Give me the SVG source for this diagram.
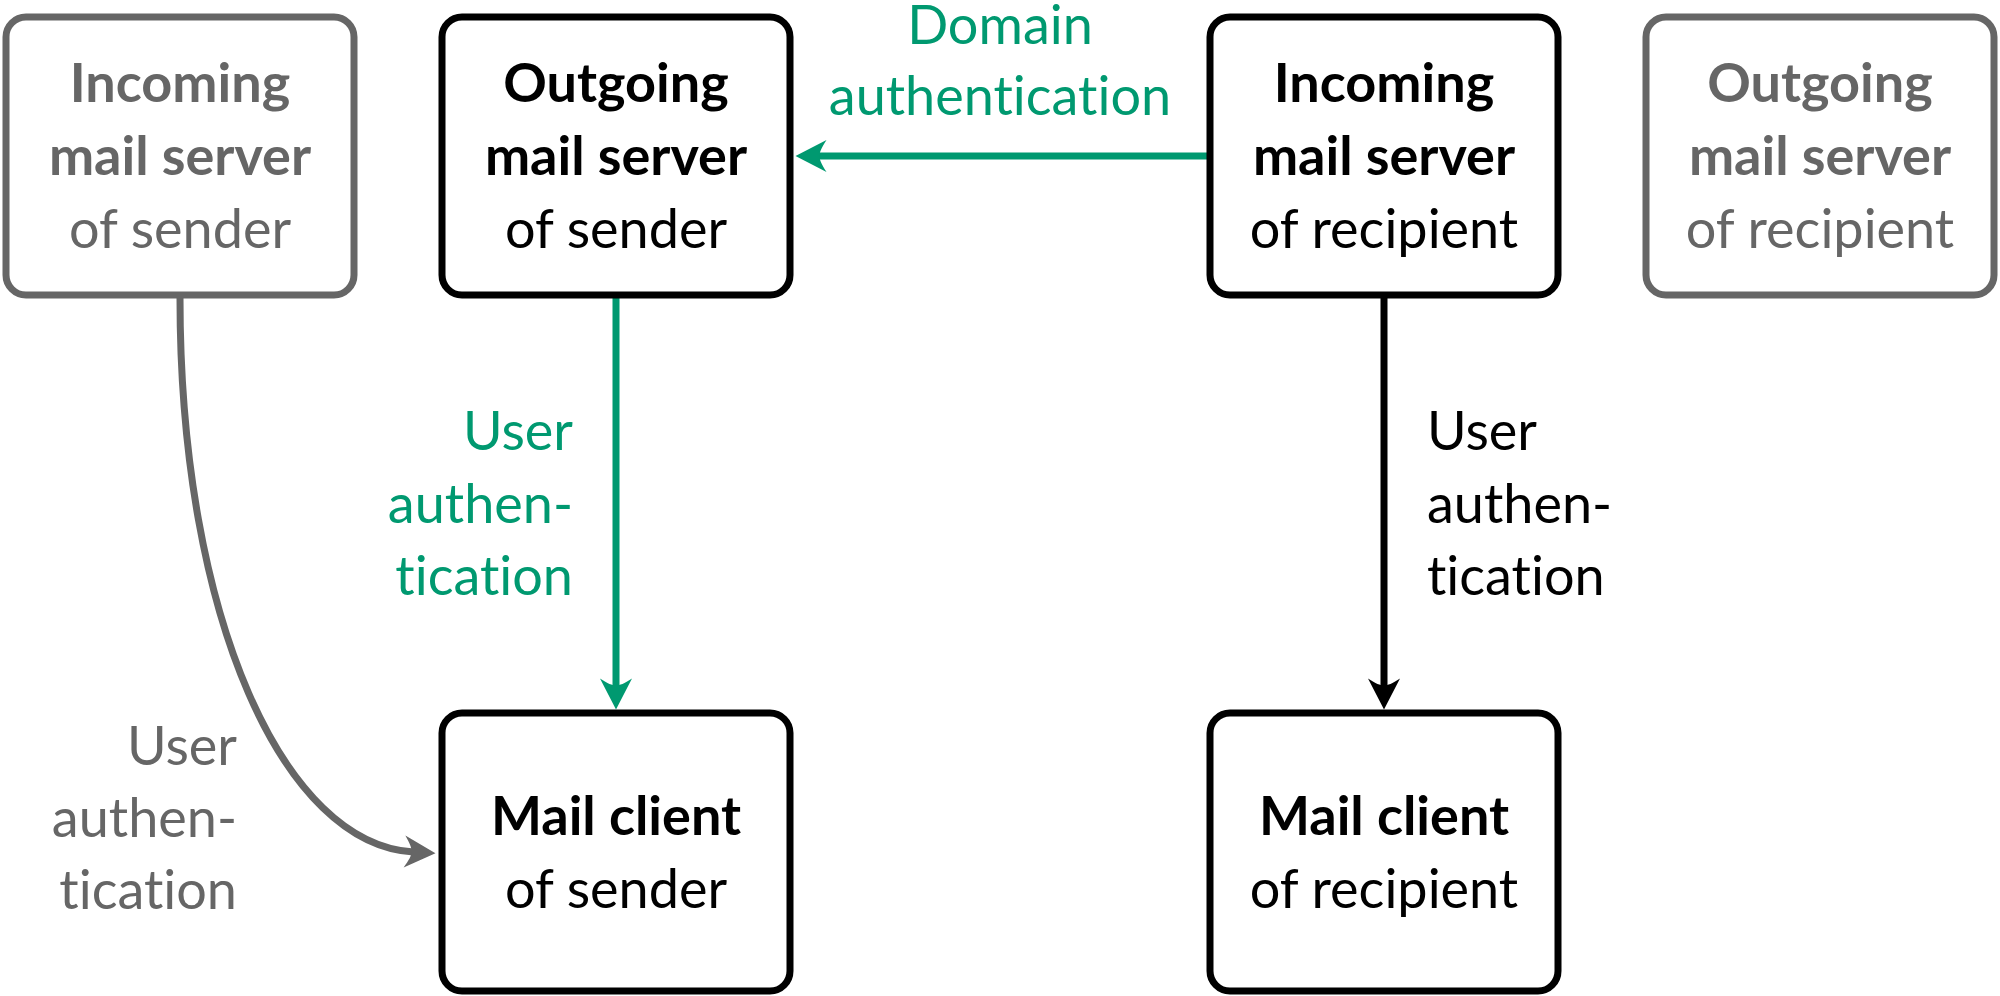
<svg xmlns="http://www.w3.org/2000/svg" width="2000" height="996" viewBox="0 0 2000 996">
<style>
text{font-family:Lato,"Open Sans","Liberation Sans",sans-serif;font-size:54px;font-variant-ligatures:none;font-feature-settings:"liga" 0,"clig" 0}
.b{font-weight:bold}
.box{fill:#fff;stroke:#000;stroke-width:7}
.gbox{fill:#fff;stroke:#666;stroke-width:7}
.c{text-anchor:middle}
.r{text-anchor:end}
.k{fill:#000}
.g{fill:#666}
.gr{fill:#009970}
.ln{fill:none;stroke-width:7}
</style>
<defs>
<marker id="ak" markerUnits="userSpaceOnUse" orient="auto" refX="0" refY="0" markerWidth="60" markerHeight="40" viewBox="-15 -20 60 40" overflow="visible">
<path d="M22,0 L-9,-16 C-4,-8 -2,-4 -2,0 C-2,4 -4,8 -9,16 Z" fill="#000"/>
</marker>
<marker id="ag" markerUnits="userSpaceOnUse" orient="auto" refX="0" refY="0" markerWidth="60" markerHeight="40" viewBox="-15 -20 60 40" overflow="visible">
<path d="M22,0 L-9,-16 C-4,-8 -2,-4 -2,0 C-2,4 -4,8 -9,16 Z" fill="#009970"/>
</marker>
<marker id="ay" markerUnits="userSpaceOnUse" orient="auto" refX="0" refY="0" markerWidth="60" markerHeight="40" viewBox="-15 -20 60 40" overflow="visible">
<path d="M22,0 L-9,-16 C-4,-8 -2,-4 -2,0 C-2,4 -4,8 -9,16 Z" fill="#666"/>
</marker>
</defs>
<g id="connectors">
<path class="ln" stroke="#009970" d="M1207,156 L817.5,156" marker-end="url(#ag)"/>
<path class="ln" stroke="#009970" d="M616,298 L616,687.5" marker-end="url(#ag)"/>
<path class="ln" stroke="#000" d="M1384,298 L1384,687.5" marker-end="url(#ak)"/>
<path class="ln" stroke="#666" d="M180,298 C180,620 285,845 413.5,852" marker-end="url(#ay)"/>
<text class="c gr" x="1000" y="44">Domain</text>
<text class="c gr" x="1000" y="115">authentication</text>
<text class="r gr" x="573" y="450">User</text>
<text class="r gr" x="573" y="523">authen-</text>
<text class="r gr" x="573" y="595">tication</text>
<text class="k" x="1427" y="450">User</text>
<text class="k" x="1427" y="523">authen-</text>
<text class="k" x="1427" y="595">tication</text>
<text class="r g" x="237" y="765">User</text>
<text class="r g" x="237" y="837">authen-</text>
<text class="r g" x="237" y="909">tication</text>
</g>
<g id="in-sender">
<rect class="gbox" x="6" y="17" width="348" height="278" rx="20"/>
<text class="c g b" x="180" y="102">Incoming</text>
<text class="c g b" x="180" y="175">mail server</text>
<text class="c g" x="180" y="248">of sender</text>
</g>
<g id="out-sender">
<rect class="box" x="442" y="17" width="348" height="278" rx="20"/>
<text class="c k b" x="616" y="102">Outgoing</text>
<text class="c k b" x="616" y="175">mail server</text>
<text class="c k" x="616" y="248">of sender</text>
</g>
<g id="in-recipient">
<rect class="box" x="1210" y="17" width="348" height="278" rx="20"/>
<text class="c k b" x="1384" y="102">Incoming</text>
<text class="c k b" x="1384" y="175">mail server</text>
<text class="c k" x="1384" y="248">of recipient</text>
</g>
<g id="out-recipient">
<rect class="gbox" x="1646" y="17" width="348" height="278" rx="20"/>
<text class="c g b" x="1820" y="102">Outgoing</text>
<text class="c g b" x="1820" y="175">mail server</text>
<text class="c g" x="1820" y="248">of recipient</text>
</g>
<g id="client-sender">
<rect class="box" x="442" y="713" width="348" height="278" rx="20"/>
<text class="c k b" x="616" y="835">Mail client</text>
<text class="c k" x="616" y="908">of sender</text>
</g>
<g id="client-recipient">
<rect class="box" x="1210" y="713" width="348" height="278" rx="20"/>
<text class="c k b" x="1384" y="835">Mail client</text>
<text class="c k" x="1384" y="908">of recipient</text>
</g>
</svg>
